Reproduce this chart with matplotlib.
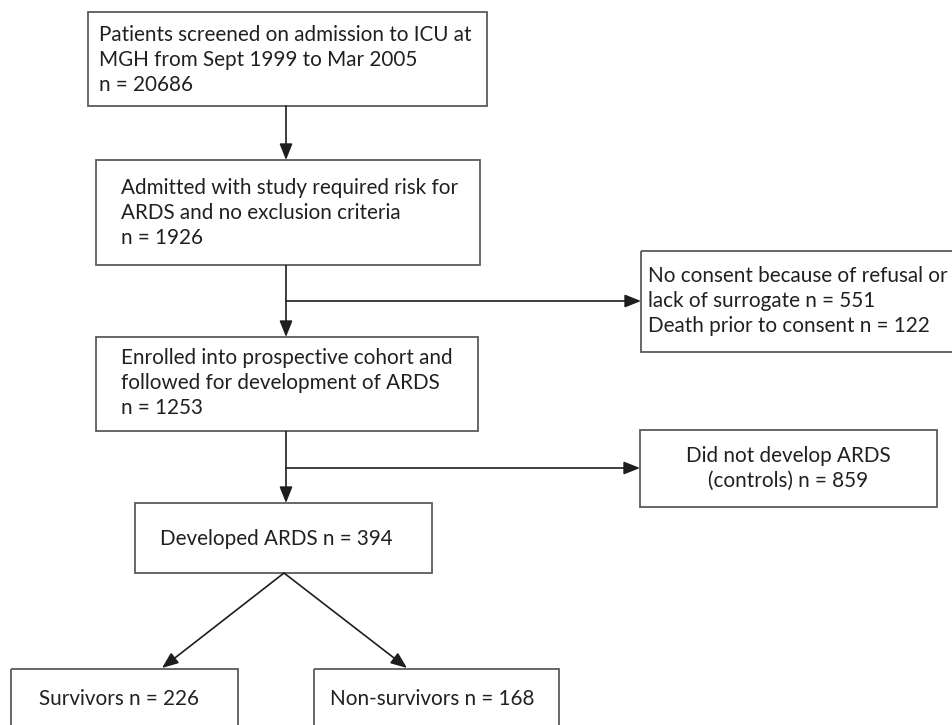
import matplotlib
matplotlib.use("Agg")
import matplotlib.pyplot as plt
from matplotlib.patches import Rectangle

# ---- data (texts and counts) ----
screened_lines = ["Patients screened on admission to ICU at", "MGH from Sept 1999 to Mar 2005"]
n_screened = 20686
admitted_lines = ["Admitted with study required risk for", "ARDS and no exclusion criteria"]
n_admitted = 1926
excluded_lines = ["No consent because of refusal or", "lack of surrogate n = {}", "Death prior to consent n = {}"]
n_no_consent = 551
n_death = 122
enrolled_lines = ["Enrolled into prospective cohort and", "followed for development of ARDS"]
n_enrolled = 1253
controls_lines = ["Did not develop ARDS", "(controls) n = {}"]
n_controls = 859
ards_label = "Developed ARDS n = {}"
n_ards = 394
survivor_label = "Survivors n = {}"
n_survivors = 226
nonsurvivor_label = "Non-survivors n = {}"
n_nonsurvivors = 168

W, H = 952, 725
fig = plt.figure(figsize=(W / 100, H / 100), dpi=100)
ax = fig.add_axes([0, 0, 1, 1])
ax.set_xlim(0, W)
ax.set_ylim(H, 0)
ax.axis("off")

FONT = "Lato"
TXT = "#231f20"
EDGE = "#5a5a5a"
ARR = "#1e1e1e"

# fit font size so the longest line has the reference width
renderer = fig.canvas.get_renderer()
probe = ax.text(0, 0, screened_lines[0], fontsize=12, family=FONT)
wpx = probe.get_window_extent(renderer).width
probe.remove()
FS = 12 * 370.0 / wpx


def box(x0, y0, x1, y1):
    ax.add_patch(Rectangle((x0, y0), x1 - x0, y1 - y0, fill=False,
                           edgecolor=EDGE, lw=1.3, clip_on=True))


def text(x, y, s, ha="left"):
    ax.text(x, y, s, fontsize=FS, family=FONT, color=TXT, ha=ha, va="center")


def arrow(x0, y0, x1, y1):
    ax.annotate("", xy=(x1, y1), xytext=(x0, y0),
                arrowprops=dict(arrowstyle="-|>,head_length=0.7,head_width=0.28",
                                color=ARR, lw=1.2, shrinkA=0, shrinkB=0,
                                mutation_scale=14))


def line(xs, ys):
    ax.plot(xs, ys, color=ARR, lw=1.2, solid_capstyle="butt")


# Box 1
box(88, 12, 487, 106)
for i, s in enumerate(screened_lines + ["n = {}".format(n_screened)]):
    text(99, 35 + 25 * i, s)
arrow(286, 106, 286, 160)

# Box 2
box(96, 160, 480, 265)
for i, s in enumerate(admitted_lines + ["n = {}".format(n_admitted)]):
    text(121, 188 + 25 * i, s)

line([286, 286], [265, 301])
arrow(286, 301, 286, 337)
arrow(286, 301, 641, 301)

# Box 3 (exclusions)
box(641, 251, 1000, 352)
ex = [excluded_lines[0], excluded_lines[1].format(n_no_consent), excluded_lines[2].format(n_death)]
for i, s in enumerate(ex):
    text(648, 276 + 25 * i, s)

# Box 4
box(96, 337, 478, 431)
for i, s in enumerate(enrolled_lines + ["n = {}".format(n_enrolled)]):
    text(121, 358 + 25 * i, s)

line([286, 286], [431, 468])
arrow(286, 468, 286, 503)
arrow(286, 468, 640, 468)

# Box 5 (controls)
box(640, 430, 937, 507)
ct = [controls_lines[0], controls_lines[1].format(n_controls)]
for i, s in enumerate(ct):
    text(788, 456 + 25 * i, s, ha="center")

# Box 6
box(135, 503, 432, 573)
text(160, 539, ards_label.format(n_ards))

arrow(284, 573, 162, 668)
arrow(284, 573, 407, 668)

# Box 7, 8
box(11, 669, 238, 760)
text(39, 699, survivor_label.format(n_survivors))
box(314, 669, 559, 760)
text(330, 699, nonsurvivor_label.format(n_nonsurvivors))

fig.savefig("out.png", dpi=100, facecolor="white")
